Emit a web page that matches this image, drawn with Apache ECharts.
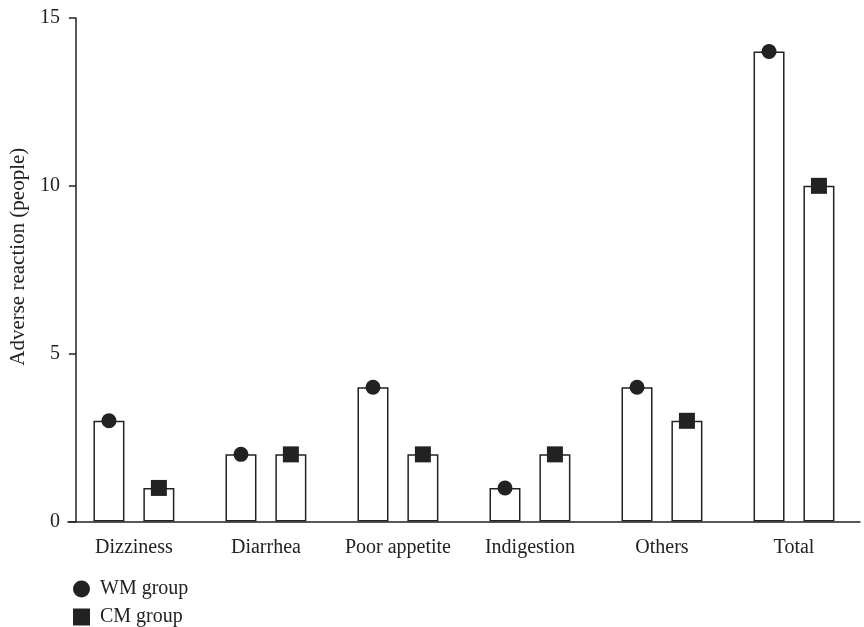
<!DOCTYPE html>
<html>
<head>
<meta charset="utf-8">
<script src="https://cdn.jsdelivr.net/npm/echarts@6/dist/echarts.min.js"></script>
<style>html,body{margin:0;padding:0;background:#fff;}#c{width:864px;height:627px;}</style>
</head>
<body>
<div id="c"></div>
<script>
const categories = ['Dizziness', 'Diarrhea', 'Poor appetite', 'Indigestion', 'Others', 'Total'];
const wmValues = [3, 2, 4, 1, 4, 14];
const cmValues = [1, 2, 2, 2, 3, 10];
const yTicks = [0, 5, 10, 15];

const ink = '#222';
const font = 'Liberation Serif';
const barW = 31;
const gap = '61%';

const chart = echarts.init(document.getElementById('c'), null, {renderer: 'canvas'});
chart.setOption({
  animation: false,
  backgroundColor: '#fff',
  grid: {left: 65, right: 4, top: 18, bottom: 105.5, containLabel: false},
  legend: {
    orient: 'vertical', left: 73, top: 579, height: 70, padding: 0,
    itemWidth: 17, itemHeight: 17, itemGap: 8,
    textStyle: {fontFamily: font, fontSize: 20, lineHeight: 20, color: ink, padding: [0, 0, 0, 5]},
    data: [{name: 'WM group', icon: 'circle'}, {name: 'CM group', icon: 'rect'}]
  },
  xAxis: {
    type: 'category', data: categories,
    axisLine: {lineStyle: {color: ink, width: 1.5}},
    axisTick: {alignWithLabel: true, length: 8, lineStyle: {color: ink, width: 1.5}},
    axisLabel: {fontFamily: font, fontSize: 20, color: ink, margin: 16, interval: 0}
  },
  yAxis: {
    type: 'value', min: yTicks[0], max: yTicks[yTicks.length - 1], interval: 5,
    offset: -8,
    name: 'Adverse reaction (people)', nameLocation: 'middle', nameGap: 42,
    nameTextStyle: {fontFamily: font, fontSize: 21, color: ink, padding: [0, 0, 0, 26]},
    axisLine: {show: true, lineStyle: {color: ink, width: 1.5}},
    axisTick: {show: true, length: 7, lineStyle: {color: ink, width: 1.5}},
    axisLabel: {fontFamily: font, fontSize: 20, color: ink, margin: 16},
    splitLine: {show: false}
  },
  series: [
    {type: 'bar', name: 'WM bars', data: wmValues, barWidth: barW, barGap: gap,
     itemStyle: {color: '#fff', borderColor: ink, borderWidth: 1.5}, z: 2},
    {type: 'bar', name: 'CM bars', data: cmValues, barWidth: barW, barGap: gap,
     itemStyle: {color: '#fff', borderColor: ink, borderWidth: 1.5}, z: 2},
    {type: 'pictorialBar', name: 'WM group', data: wmValues, barWidth: barW, barGap: gap,
     symbol: 'circle', symbolSize: [15, 15], symbolPosition: 'end', symbolOffset: [0, '-50%'],
     itemStyle: {color: ink}, z: 5},
    {type: 'pictorialBar', name: 'CM group', data: cmValues, barWidth: barW, barGap: gap,
     symbol: 'rect', symbolSize: [16, 16], symbolPosition: 'end', symbolOffset: [0, '-50%'],
     itemStyle: {color: ink}, z: 5}
  ]
});
</script>
</body>
</html>
